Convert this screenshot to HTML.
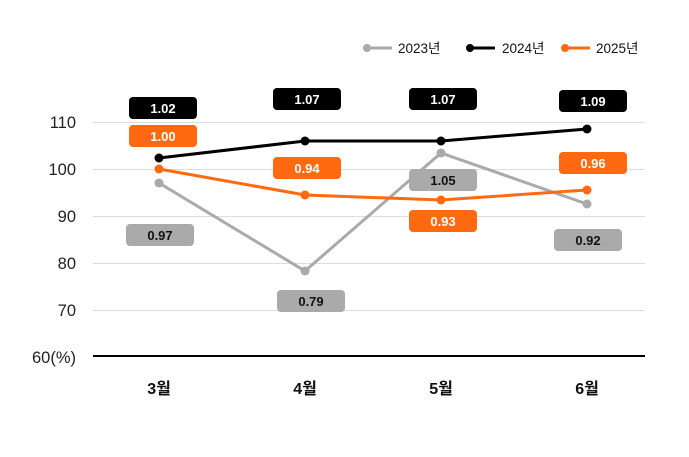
<!DOCTYPE html>
<html><head><meta charset="utf-8"><style>
body{margin:0;background:#fff}
text{font-family:"Liberation Sans","Noto Sans CJK KR",sans-serif}
</style></head><body>
<svg width="689" height="452" viewBox="0 0 689 452" xmlns="http://www.w3.org/2000/svg">
<g stroke="#dddddd" stroke-width="1">
<line x1="93" y1="122.5" x2="645" y2="122.5"/>
<line x1="93" y1="169.5" x2="645" y2="169.5"/>
<line x1="93" y1="216.5" x2="645" y2="216.5"/>
<line x1="93" y1="263.5" x2="645" y2="263.5"/>
<line x1="93" y1="310.5" x2="645" y2="310.5"/>
</g>
<line x1="93" y1="356" x2="645" y2="356" stroke="#000" stroke-width="2"/>
<g font-size="16.5" fill="#222" text-anchor="end">
<text x="76" y="128">110</text>
<text x="76" y="175">100</text>
<text x="76" y="222">90</text>
<text x="76" y="269">80</text>
<text x="76" y="316">70</text>
<text x="76" y="363">60(%)</text>
</g>
<g font-size="16" fill="#111" text-anchor="middle" font-weight="bold">
<text x="159" y="394">3월</text>
<text x="305" y="394">4월</text>
<text x="441" y="394">5월</text>
<text x="587" y="394">6월</text>
</g>
<g font-size="13.5" fill="#111">
<line x1="364" y1="48" x2="392" y2="48" stroke="#aaa" stroke-width="3"/><circle cx="367" cy="48" r="4" fill="#aaa"/>
<text x="398" y="53">2023년</text>
<line x1="467" y1="48" x2="495" y2="48" stroke="#000" stroke-width="3"/><circle cx="470" cy="48" r="4" fill="#000"/>
<text x="502" y="53">2024년</text>
<line x1="562" y1="48" x2="590" y2="48" stroke="#ff6a10" stroke-width="3"/><circle cx="565" cy="48" r="4" fill="#ff6a10"/>
<text x="596" y="53">2025년</text>
</g>
<polyline points="159,183 305,271 441,153 587,204" fill="none" stroke="#aaa" stroke-width="3"/>
<g fill="#aaa"><circle cx="159" cy="183" r="4.5"/><circle cx="305" cy="271" r="4.5"/><circle cx="441" cy="153" r="4.5"/><circle cx="587" cy="204" r="4.5"/></g>
<polyline points="159,158 305,141 441,141 587,129" fill="none" stroke="#000" stroke-width="3"/>
<g fill="#000"><circle cx="159" cy="158" r="4.5"/><circle cx="305" cy="141" r="4.5"/><circle cx="441" cy="141" r="4.5"/><circle cx="587" cy="129" r="4.5"/></g>
<polyline points="159,169 305,195 441,200 587,190" fill="none" stroke="#ff6a10" stroke-width="3"/>
<g fill="#ff6a10"><circle cx="159" cy="169" r="4.5"/><circle cx="305" cy="195" r="4.5"/><circle cx="441" cy="200" r="4.5"/><circle cx="587" cy="190" r="4.5"/></g>
<g font-size="13" font-weight="bold" text-anchor="middle">
<rect x="129" y="97" width="68" height="22" rx="4" fill="#000"/><text x="163" y="113" fill="#fff">1.02</text>
<rect x="273" y="88" width="68" height="22" rx="4" fill="#000"/><text x="307" y="104" fill="#fff">1.07</text>
<rect x="409" y="88" width="68" height="22" rx="4" fill="#000"/><text x="443" y="104" fill="#fff">1.07</text>
<rect x="559" y="90" width="68" height="22" rx="4" fill="#000"/><text x="593" y="106" fill="#fff">1.09</text>
<rect x="129" y="125" width="68" height="22" rx="4" fill="#ff6a10"/><text x="163" y="141" fill="#fff">1.00</text>
<rect x="273" y="157" width="68" height="22" rx="4" fill="#ff6a10"/><text x="307" y="173" fill="#fff">0.94</text>
<rect x="409" y="210" width="68" height="22" rx="4" fill="#ff6a10"/><text x="443" y="226" fill="#fff">0.93</text>
<rect x="559" y="152" width="68" height="22" rx="4" fill="#ff6a10"/><text x="593" y="168" fill="#fff">0.96</text>
<rect x="126" y="224" width="68" height="22" rx="4" fill="#aaa"/><text x="160" y="240" fill="#111">0.97</text>
<rect x="277" y="290" width="68" height="22" rx="4" fill="#aaa"/><text x="311" y="306" fill="#111">0.79</text>
<rect x="409" y="169" width="68" height="22" rx="4" fill="#aaa"/><text x="443" y="185" fill="#111">1.05</text>
<rect x="554" y="229" width="68" height="22" rx="4" fill="#aaa"/><text x="588" y="245" fill="#111">0.92</text>
</g>
</svg>
</body></html>
